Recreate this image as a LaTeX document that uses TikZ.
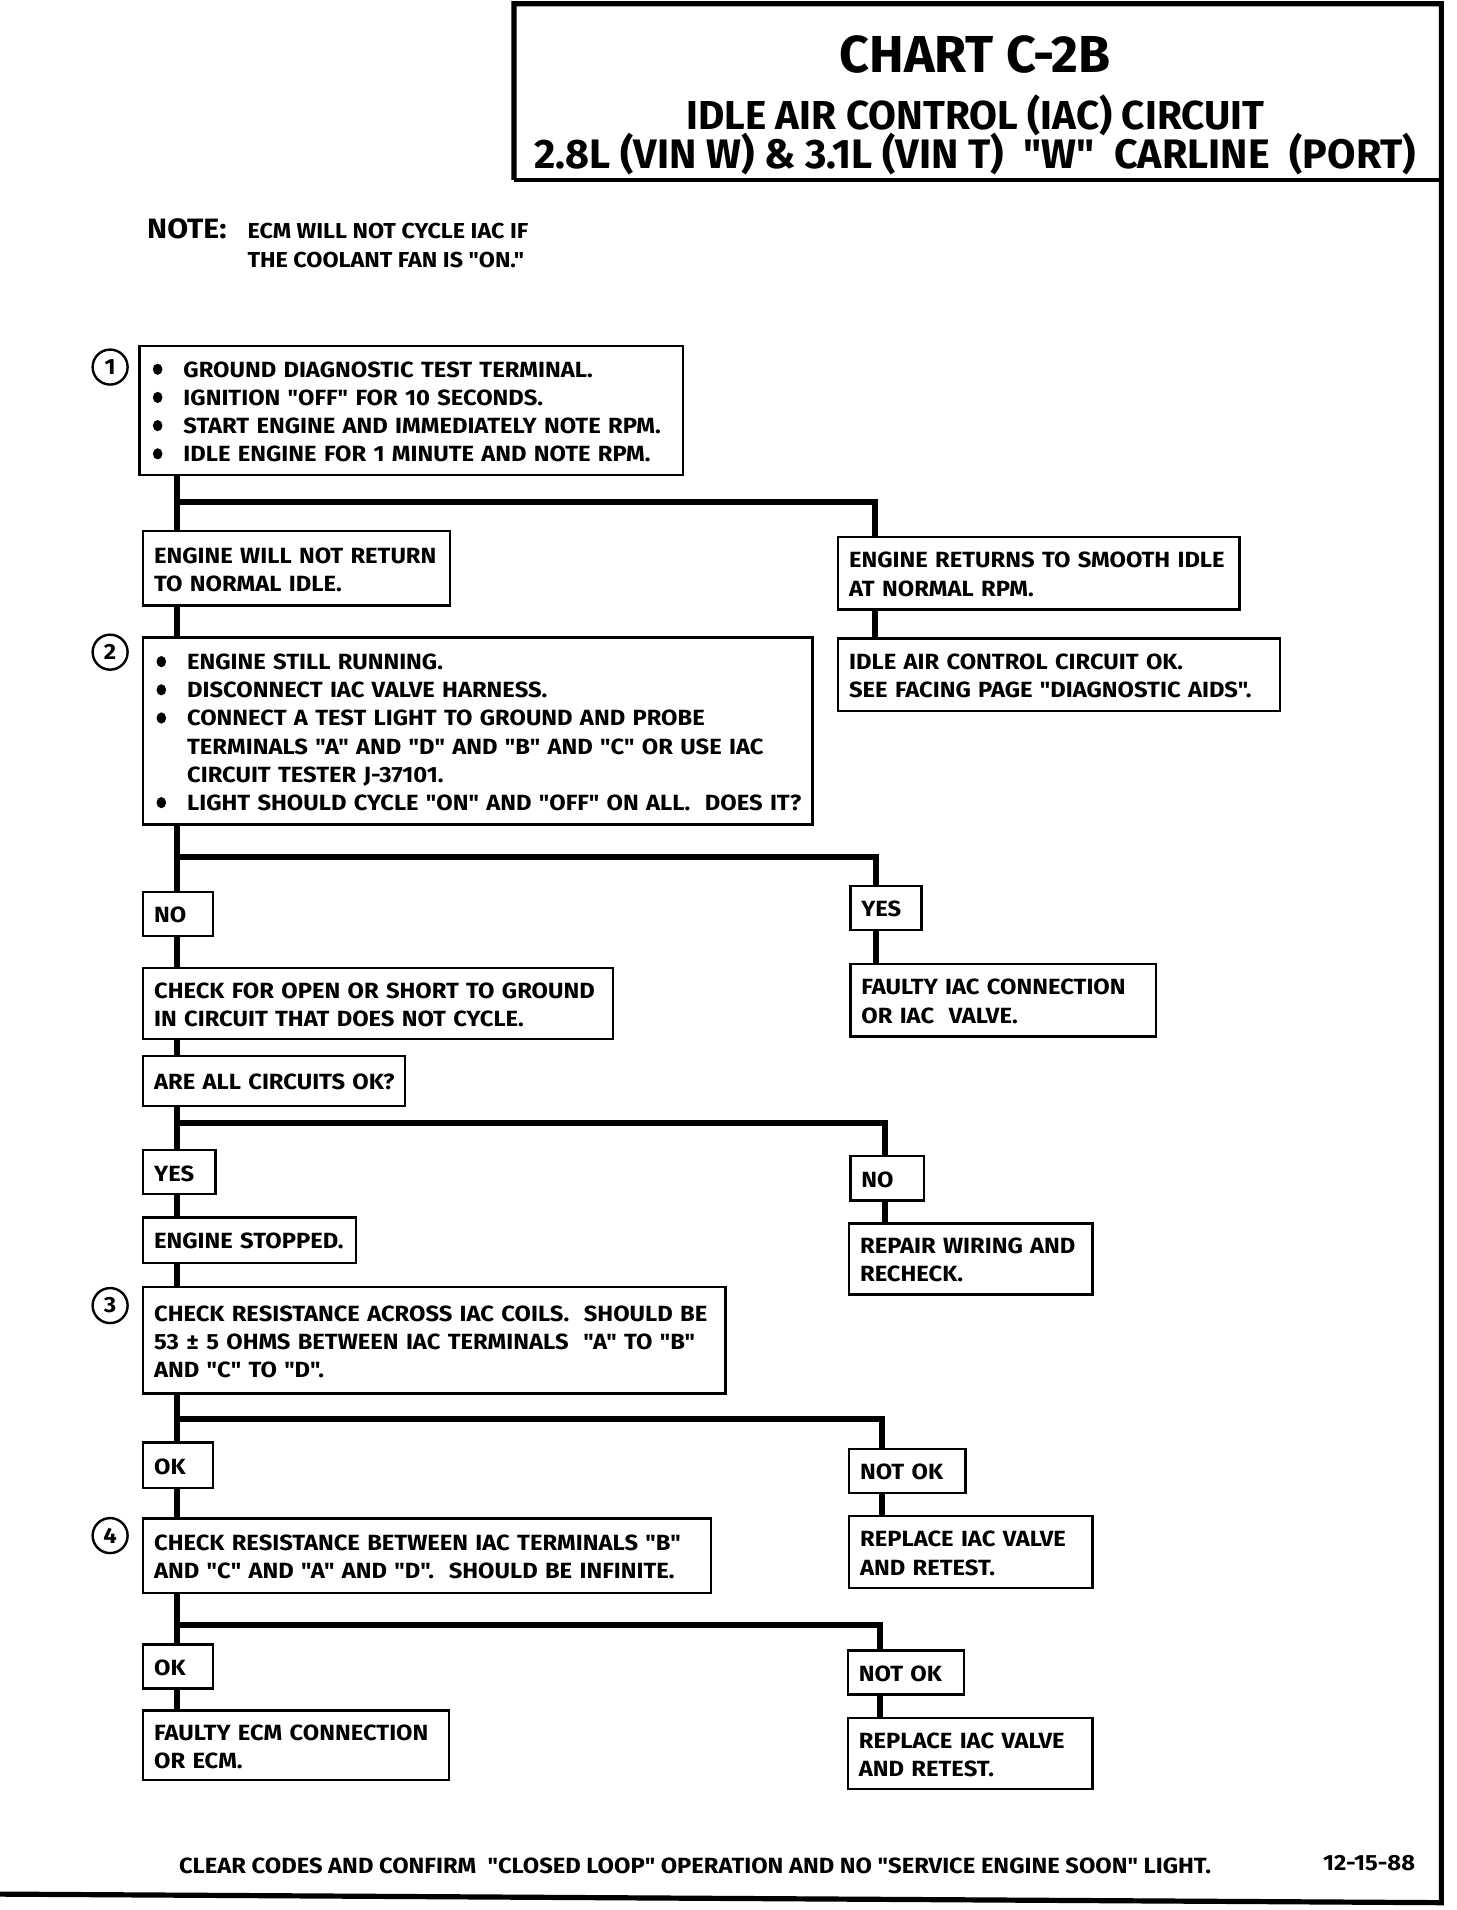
\documentclass[tikz,border=0pt]{standalone}
\usepackage{fontspec}
\newfontfamily\chart{Fira Sans}[FakeStretch=1.08]
\newfontfamily\chartt{Fira Sans}
\newcommand\boxfont{\chart\bfseries\fontsize{11}{14.1}\selectfont}
\newcommand\bul{\makebox[16.5pt][l]{\hspace{1.2pt}\tikz[baseline={(0,-3.9pt)}]\fill (0,0) ellipse (2.4pt and 2.8pt);}}
\newcommand\ind{\hspace*{16.5pt}}
\newcommand\rows[1]{\raisebox{-1.6pt}[\height][\depth]{\begin{tabular}{@{}l@{}}#1\end{tabular}}}
\tikzset{
  cbox/.style 2 args={draw, line width=1.2pt, anchor=north west, inner xsep=5.5pt, inner ysep=0pt,
    align=left, text width=#1*0.6118pt-11pt, minimum width=#1*0.6118pt, minimum height=#2*0.6118pt,
    font=\boxfont},
  trunk/.style={line width=3pt},
  num/.style={circle, draw, line width=1.2pt, minimum size=17.5pt, inner sep=0pt, font=\boxfont},
  lbl/.style={anchor=base west, inner sep=0pt, font=\boxfont},
}
\begin{document}
\begin{tikzpicture}[x=0.6118pt, y=-0.6118pt]
\useasboundingbox (0,0) rectangle (1190,1561);
% frame and title
\draw[line width=2.6pt] (420,147) -- (420,3) -- (1178,3) -- (1178,1555) -- (0,1548);
\draw[line width=2pt] (420,147) -- (1178,147);
\node[anchor=base, inner sep=0pt, font=\chartt\bfseries\fontsize{26}{30}\selectfont] (t1) at (797,59) {CHART C-2B};
\node[anchor=base, inner sep=0pt, font=\chartt\bfseries\fontsize{20.2}{24}\selectfont] (t2) at (797,106) {IDLE AIR CONTROL (IAC) CIRCUIT};
\node[anchor=base, inner sep=0pt, font=\chartt\bfseries\fontsize{20.6}{24}\selectfont] (t3) at (797,138) {2.8L (VIN W) \& 3.1L (VIN T)\ \ "W"\ \ CARLINE\ \ (PORT)};
\node[lbl, font=\chart\bfseries\fontsize{14}{16}\selectfont] (note) at (120,195) {NOTE:};
\node[lbl, font=\chart\bfseries\fontsize{10.8}{12}\selectfont] (n1) at (202,195) {ECM WILL NOT CYCLE IAC IF};
\node[lbl, font=\chart\bfseries\fontsize{10.8}{12}\selectfont] (n2) at (202,219) {THE COOLANT FAN IS "ON."};

% boxes, left column
\node[cbox={444}{105}] (b1) at (113,282) {\rows{\bul GROUND DIAGNOSTIC TEST TERMINAL.\\ \bul IGNITION "OFF" FOR 10 SECONDS.\\
  \bul START ENGINE AND IMMEDIATELY NOTE RPM.\\ \bul IDLE ENGINE FOR 1 MINUTE AND NOTE RPM.}};
\node[cbox={251}{61}] (nr) at (116,433) {\rows{ENGINE WILL NOT RETURN\\ TO NORMAL IDLE.}};
\node[cbox={547}{153}] (b2) at (116,520) {\rows{\bul ENGINE STILL RUNNING.\\ \bul DISCONNECT IAC VALVE HARNESS.\\
  \bul CONNECT A TEST LIGHT TO GROUND AND PROBE\\ \ind TERMINALS "A" AND "D" AND "B" AND "C" OR USE IAC\\
  \ind CIRCUIT TESTER J-37101.\\ \bul LIGHT SHOULD CYCLE "ON" AND "OFF" ON ALL.\ \ DOES IT?}};
\node[cbox={57}{36}] (no1) at (116,728) {\rows{NO}};
\node[cbox={384}{58}] (chk) at (116,790) {\rows{CHECK FOR OPEN OR SHORT TO GROUND\\ IN CIRCUIT THAT DOES NOT CYCLE.}};
\node[cbox={214}{41}] (are) at (116,862) {\rows{ARE ALL CIRCUITS OK?}};
\node[cbox={59}{36}] (yes2) at (116,939) {\rows{YES}};
\node[cbox={174}{37}] (stop) at (116,994) {\rows{ENGINE STOPPED.}};
\node[cbox={476}{87}] (b3) at (116,1051) {\rows{CHECK RESISTANCE ACROSS IAC COILS.\ \ SHOULD BE\\
  53 ± 5 OHMS BETWEEN IAC TERMINALS\ \ "A" TO "B"\\ AND "C" TO "D".}};
\node[cbox={57}{37}] (ok1) at (116,1178) {\rows{OK}};
\node[cbox={464}{61}] (b4) at (116,1240) {\rows{CHECK RESISTANCE BETWEEN IAC TERMINALS "B"\\
  AND "C" AND "A" AND "D".\ \ SHOULD BE INFINITE.}};
\node[cbox={57}{36}] (ok2) at (116,1343) {\rows{OK}};
\node[cbox={250}{57}] (ecm) at (116,1397) {\rows{FAULTY ECM CONNECTION\\ OR ECM.}};

% boxes, right column
\node[cbox={328}{59}] (ret) at (684,438) {\rows{ENGINE RETURNS TO SMOOTH IDLE\\ AT NORMAL RPM.}};
\node[cbox={361}{59}] (iacok) at (684,521) {\rows{IDLE AIR CONTROL CIRCUIT OK.\\ SEE FACING PAGE "DIAGNOSTIC AIDS".}};
\node[cbox={58}{36}] (yes1) at (694,723) {\rows{YES}};
\node[cbox={250}{59}] (fiac) at (694,787) {\rows{FAULTY IAC CONNECTION\\ OR IAC\ \ VALVE.}};
\node[cbox={60}{36}] (no2) at (694,944) {\rows{NO}};
\node[cbox={199}{58}] (rep) at (693,999) {\rows{REPAIR WIRING AND\\ RECHECK.}};
\node[cbox={95}{36}] (nok1) at (693,1183) {\rows{NOT OK}};
\node[cbox={199}{59}] (rpl1) at (693,1238) {\rows{REPLACE IAC VALVE\\ AND RETEST.}};
\node[cbox={95}{36}] (nok2) at (692,1348) {\rows{NOT OK}};
\node[cbox={200}{58}] (rpl2) at (692,1403) {\rows{REPLACE IAC VALVE\\ AND RETEST.}};

% step numbers
\node[num] (s1) at (90,300) {1};
\node[num] (s2) at (90,533) {2};
\node[num] (s3) at (90,1067) {3};
\node[num] (s4) at (90,1255) {4};

% trunk lines
\coordinate (tr) at (145,0);
\coordinate (r1) at (715,0);
\coordinate (r2) at (716,0);
\coordinate (r3) at (723,0);
\coordinate (r4) at (721,0);
\coordinate (r5) at (719,0);
\coordinate (j1) at (145,410);
\coordinate (j2) at (145,700);
\coordinate (j3) at (145,918);
\coordinate (j4) at (145,1160);
\coordinate (j5) at (145,1328);
\draw[trunk] (b1.south -| tr) -- (nr.north -| tr);
\draw[trunk] (j1) -| (ret.north -| r1);
\draw[trunk] (ret.south -| r1) -- (iacok.north -| r1);
\draw[trunk] (nr.south -| tr) -- (b2.north -| tr);
\draw[trunk] (b2.south -| tr) -- (no1.north -| tr);
\draw[trunk] (j2) -| (yes1.north -| r2);
\draw[trunk] (yes1.south -| r2) -- (fiac.north -| r2);
\draw[trunk] (no1.south -| tr) -- (chk.north -| tr);
\draw[trunk] (chk.south -| tr) -- (are.north -| tr);
\draw[trunk] (are.south -| tr) -- (yes2.north -| tr);
\draw[trunk] (j3) -| (no2.north -| r3);
\draw[trunk] (no2.south -| r3) -- (rep.north -| r3);
\draw[trunk] (yes2.south -| tr) -- (stop.north -| tr);
\draw[trunk] (stop.south -| tr) -- (b3.north -| tr);
\draw[trunk] (b3.south -| tr) -- (ok1.north -| tr);
\draw[trunk] (j4) -| (nok1.north -| r4);
\draw[trunk] (nok1.south -| r4) -- (rpl1.north -| r4);
\draw[trunk] (ok1.south -| tr) -- (b4.north -| tr);
\draw[trunk] (b4.south -| tr) -- (ok2.north -| tr);
\draw[trunk] (j5) -| (nok2.north -| r5);
\draw[trunk] (nok2.south -| r5) -- (rpl2.north -| r5);
\draw[trunk] (ok2.south -| tr) -- (ecm.north -| tr);

% footer
\node[lbl, font=\chart\bfseries\fontsize{11}{12}\selectfont] (foot) at (146,1531) {CLEAR CODES AND CONFIRM\ \ "CLOSED LOOP" OPERATION AND NO "SERVICE ENGINE SOON" LIGHT.};
\node[lbl, font=\chart\bfseries\fontsize{11}{12}\selectfont] (date) at (1081,1529) {12-15-88};
\end{tikzpicture}
\end{document}
